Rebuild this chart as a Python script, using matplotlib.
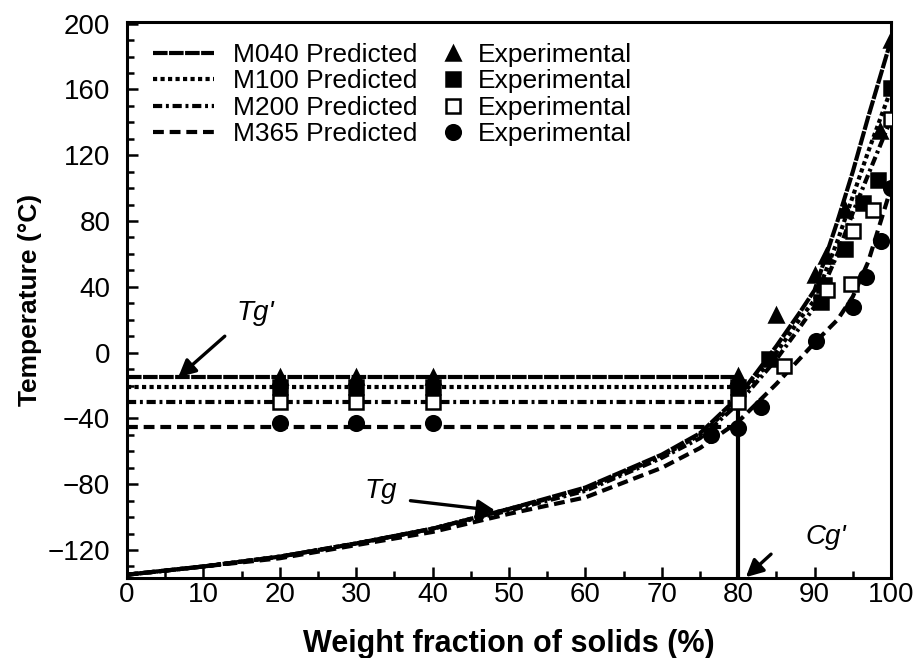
import matplotlib
matplotlib.use("Agg")
import matplotlib.pyplot as plt
from matplotlib.ticker import MultipleLocator

plt.rcParams['font.family'] = ['Liberation Sans', 'DejaVu Sans']

# Predicted Tg curves (weight fraction of solids %, temperature °C)
x_curve = [0, 10, 20, 30, 40, 50, 60, 70, 75, 80, 85, 88, 90, 93, 95, 97, 100]
m040_curve = [-135, -130, -124, -116, -107, -95, -82, -62, -49, -27, 4, 24, 38, 80, 110, 143, 190]
m100_curve = [-135, -130, -124, -116, -107, -95, -83, -63, -50, -29, 0, 20, 32, 68, 95, 122, 160]
m200_curve = [-135, -130, -124, -116, -107, -96, -84, -64, -52, -31, -4, 15, 28, 60, 85, 108, 142]
m365_curve = [-135, -130, -125, -117, -109, -98, -88, -70, -58, -42, -19, -4, 6, 20, 34, 55, 100]

# Tg' (horizontal lines, 0..Cg')
tg_prime = {'M040': -15, 'M100': -21, 'M200': -30, 'M365': -45}
cg_prime = 80

# Experimental points
m040_x = [20, 30, 40, 80, 85, 90, 91.5, 94, 98.5, 100]
m040_y = [-15, -15, -15, -14, 23, 47, 59, 87, 135, 190]
m100_x = [20, 30, 40, 80, 84, 90.8, 91.2, 94, 96.3, 98.3, 100]
m100_y = [-21, -21, -21, -21, -4, 31, 41, 63, 91, 105, 161]
m200_x = [20, 30, 40, 80, 86, 91.6, 94.8, 95, 97.6, 100]
m200_y = [-30, -30, -30, -30, -8, 38, 42, 74, 87, 142]
m365_x = [20, 30, 40, 76.5, 80, 83, 90.2, 95, 96.7, 98.7, 100]
m365_y = [-43, -43, -43, -50, -46, -33, 7, 28, 46, 68, 100]

series = ['M040', 'M100', 'M200', 'M365']
styles = {
    'M040': (0, (3.5, 0.35)),
    'M100': (0, (1.0, 0.8)),
    'M200': (0, (2.2, 0.9, 0.7, 0.9)),
    'M365': (0, (2.6, 1.4)),
}
curves = {'M040': m040_curve, 'M100': m100_curve, 'M200': m200_curve, 'M365': m365_curve}
exp = {'M040': (m040_x, m040_y, '^', 'k'), 'M100': (m100_x, m100_y, 's', 'k'),
       'M200': (m200_x, m200_y, 's', 'w'), 'M365': (m365_x, m365_y, 'o', 'k')}

W, H = 917, 658
fig = plt.figure(figsize=(W / 100, H / 100), dpi=100)
ax = fig.add_axes([127 / W, 1 - 578 / H, (891 - 127) / W, (578 - 22) / H])

LW = 3.0
line_handles = []
for s in series:
    h, = ax.plot(x_curve, curves[s], color='k', lw=LW, linestyle=styles[s],
                 label=f'{s} Predicted')
    ax.plot([0, cg_prime], [tg_prime[s], tg_prime[s]], color='k', lw=LW, linestyle=styles[s])
    line_handles.append(h)

marker_handles = []
for s in series:
    xs, ys, m, fc = exp[s]
    ms = 10.5 if m != 's' else 9.5
    h, = ax.plot(xs, ys, linestyle='none', marker=m, markersize=ms, markerfacecolor=fc,
                 markeredgecolor='k', markeredgewidth=1.8, label='Experimental', zorder=5)
    marker_handles.append(h)

# Cg' vertical line
ax.plot([cg_prime, cg_prime], [tg_prime['M040'], -137], color='k', lw=LW)

ax.set_xlim(0, 100)
ax.set_ylim(-137, 201)
ax.xaxis.set_major_locator(MultipleLocator(10))
ax.xaxis.set_minor_locator(MultipleLocator(5))
ax.yaxis.set_major_locator(MultipleLocator(40))
ax.yaxis.set_minor_locator(MultipleLocator(10))
ax.tick_params(which='both', direction='in', top=False, right=False, width=1.8, labelsize=20)
ax.tick_params(which='major', length=8)
ax.tick_params(which='minor', length=5)
ax.tick_params(axis='y', pad=12)
ax.tick_params(axis='x', pad=3)
for sp in ax.spines.values():
    sp.set_linewidth(2.2)

ax.set_xlabel('Weight fraction of solids (%)', fontsize=22, fontweight='bold', labelpad=15)
ax.set_ylabel('Temperature (°C)', fontsize=19, fontweight='bold', labelpad=4)

leg1 = fig.legend(line_handles, [h.get_label() for h in line_handles],
                  frameon=False, fontsize=19, loc='upper left',
                  bbox_to_anchor=(153 / W, 1 - 43 / H), handlelength=2.3,
                  labelspacing=0.09, handletextpad=0.75, borderaxespad=0, borderpad=0)
leg2 = fig.legend(marker_handles, ['Experimental'] * 4,
                  frameon=False, fontsize=19, loc='upper left',
                  bbox_to_anchor=(440 / W, 1 - 43 / H), handlelength=1.0,
                  labelspacing=0.09, handletextpad=0.45, borderaxespad=0, borderpad=0)

arrow = dict(arrowstyle='-|>', color='k', lw=2.4, mutation_scale=26, shrinkA=0, shrinkB=0)
ax.annotate('', xy=(6.7, -15), xytext=(12.8, 10), arrowprops=arrow)
ax.annotate('', xy=(48.2, -96), xytext=(37.1, -90), arrowprops=arrow)
ax.annotate('', xy=(81, -136.5), xytext=(84.3, -122.5), arrowprops=arrow)
ax.text(16.8, 24, "Tg'", fontsize=20, style='italic', ha='center', va='center')
ax.text(33.2, -84, "Tg", fontsize=20, style='italic', ha='center', va='center')
ax.text(91.5, -112, "Cg'", fontsize=20, style='italic', ha='center', va='center')

fig.savefig('out.png', dpi=100)
